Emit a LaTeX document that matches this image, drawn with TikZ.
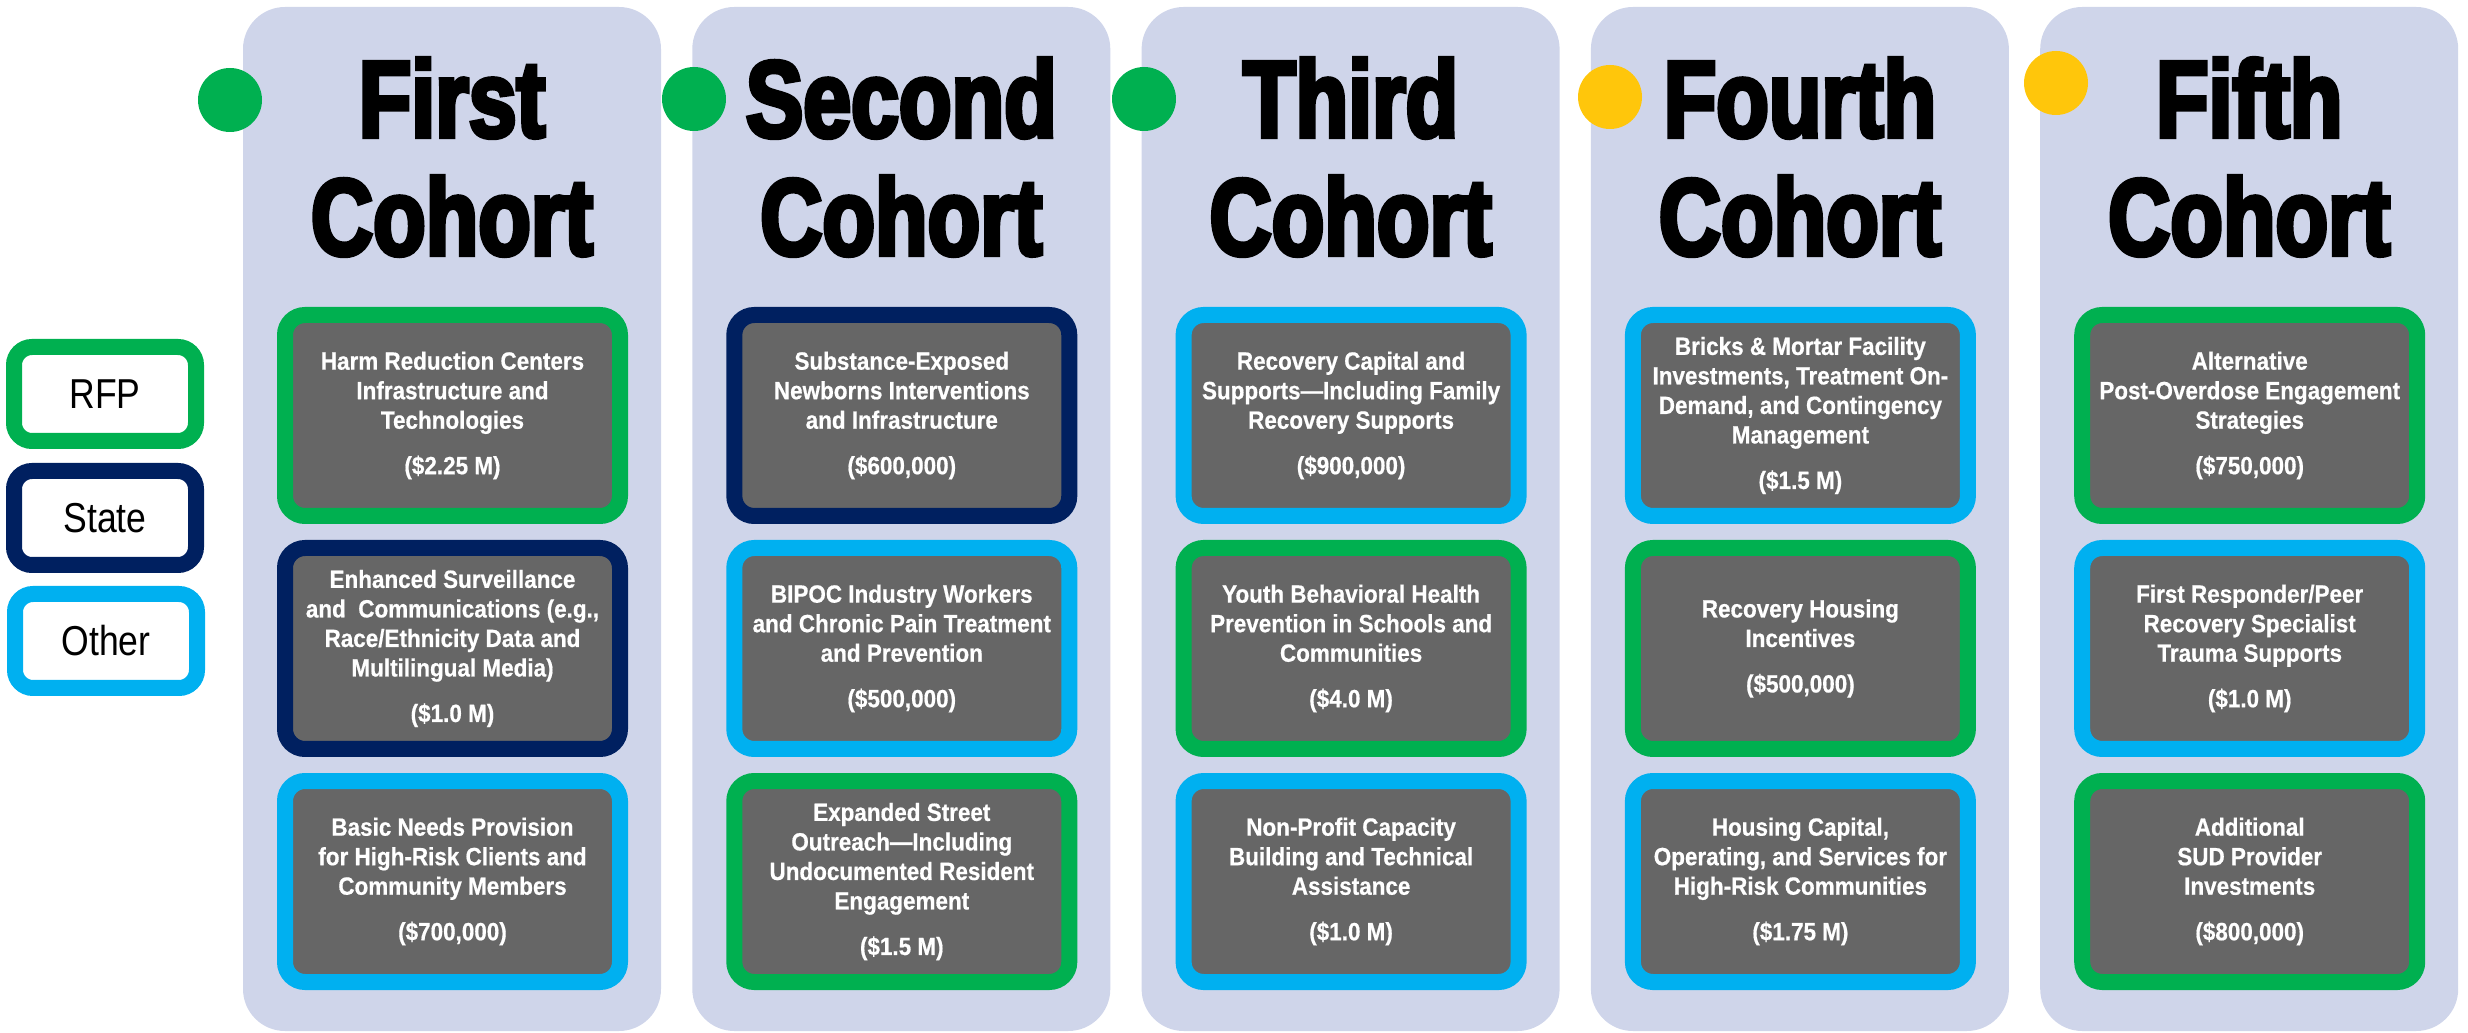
\documentclass[tikz,border=0pt]{standalone}
\usepackage{fontspec}
\setmainfont{Liberation Sans}
\newfontfamily\headfont[FakeStretch=0.79,FakeBold=4]{Liberation Sans}
\newfontfamily\boxfont[FakeStretch=0.9,FakeBold=0.6]{Liberation Sans}
\newfontfamily\keyfont[FakeStretch=0.85]{Liberation Sans}
\definecolor{panelblue}{HTML}{CFD5EA}
\definecolor{boxgrey}{HTML}{666666}
\definecolor{rfpgreen}{HTML}{00B050}
\definecolor{statenavy}{HTML}{002060}
\definecolor{othercyan}{HTML}{00B0F0}
\definecolor{dotyellow}{HTML}{FFC60B}
\tikzset{
  fundbox/.style={draw=#1,line width=1.6mm,fill=boxgrey,rounded corners=2mm,
    minimum width=33.5mm,minimum height=20.1mm,inner sep=0pt,text=white,align=center,
    font=\boxfont\bfseries\fontsize{7.1}{8.4}\selectfont},
  legendbox/.style={draw=#1,line width=1.6mm,fill=white,rounded corners=1.8mm,
    minimum width=18.2mm,minimum height=9.4mm,font=\keyfont\fontsize{11.9}{14}\selectfont},
  cohortdot/.style={circle,fill=#1,minimum size=6.4mm,inner sep=0pt},
  cohorthead/.style={anchor=base,font=\headfont\bfseries\fontsize{31}{33.6}\selectfont}
}
\begin{document}
\begin{tikzpicture}[x=0.1mm,y=-0.1mm]
  \useasboundingbox (0,0) rectangle (2468,1033);
  % columns
  \foreach \i in {0,...,4}{
    \fill[panelblue,rounded corners=4.2mm]({243+449.3*\i},7)rectangle +(418,1024);
  }
  \foreach \i/\w in {0/First,1/Second,2/Third,3/Fourth,4/Fifth}{
    \node[cohorthead](T\i) at({452+449.3*\i},137) {\w};
    \node[cohorthead](C\i) at({452+449.3*\i},255) {Cohort};
  }
  \foreach \i/\x/\y/\c in {0/230/100/rfpgreen, 1/694/99/rfpgreen, 2/1144/99/rfpgreen, 3/1610/97/dotyellow, 4/2056/83/dotyellow}{
    \node[cohortdot=\c](D\i) at(\x,\y) {};
  }
  % funded items
  \foreach \i/\j/\c/\t in {
    0/0/rfpgreen/{Harm Reduction Centers\\Infrastructure and\\Technologies\\[1.6mm](\$2.25 M)},
    0/1/statenavy/{Enhanced Surveillance\\and~ Communications (e.g.,\\Race/Ethnicity Data and\\Multilingual Media)\\[1.6mm](\$1.0 M)},
    0/2/othercyan/{Basic Needs Provision\\for High-Risk Clients and\\Community Members\\[1.6mm](\$700,000)},
    1/0/statenavy/{Substance-Exposed\\Newborns Interventions\\and Infrastructure\\[1.6mm](\$600,000)},
    1/1/othercyan/{BIPOC Industry Workers\\and Chronic Pain Treatment\\and Prevention\\[1.6mm](\$500,000)},
    1/2/rfpgreen/{Expanded Street\\Outreach—Including\\Undocumented Resident\\Engagement\\[1.6mm](\$1.5 M)},
    2/0/othercyan/{Recovery Capital and\\Supports—Including Family\\Recovery Supports\\[1.6mm](\$900,000)},
    2/1/rfpgreen/{Youth Behavioral Health\\Prevention in Schools and\\Communities\\[1.6mm](\$4.0 M)},
    2/2/othercyan/{Non-Profit Capacity\\Building and Technical\\Assistance\\[1.6mm](\$1.0 M)},
    3/0/othercyan/{Bricks \& Mortar Facility\\Investments, Treatment On-\\Demand, and Contingency\\Management\\[1.6mm](\$1.5 M)},
    3/1/rfpgreen/{Recovery Housing\\Incentives\\[1.6mm](\$500,000)},
    3/2/othercyan/{Housing Capital,\\Operating, and Services for\\High-Risk Communities\\[1.6mm](\$1.75 M)},
    4/0/rfpgreen/{Alternative\\Post-Overdose Engagement\\Strategies\\[1.6mm](\$750,000)},
    4/1/othercyan/{First Responder/Peer\\Recovery Specialist\\Trauma Supports\\[1.6mm](\$1.0 M)},
    4/2/rfpgreen/{Additional\\SUD Provider\\Investments\\[1.6mm](\$800,000)}}{
    \node[fundbox=\c](B\i\j) at({452.5+449.3*\i},{415.5+233*\j}) {\t};
  }
  % legend
  \node[legendbox=rfpgreen](kRFP) at(105,394) {RFP};
  \node[legendbox=statenavy](kState) at(105,518) {State};
  \node[legendbox=othercyan](kOther) at(106,641) {Other};
\end{tikzpicture}
\end{document}
